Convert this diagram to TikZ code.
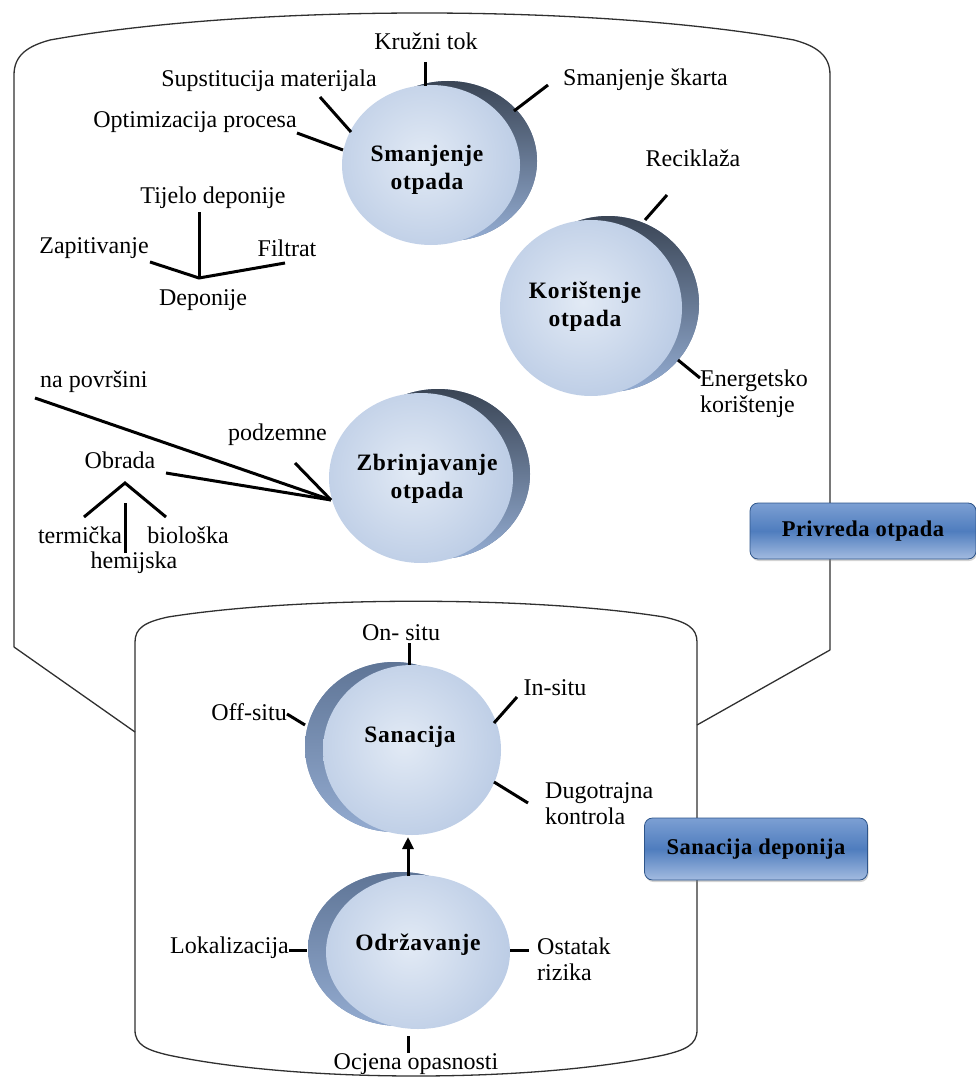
\documentclass[tikz,border=0pt]{standalone}
\usepackage{fontspec}
\setmainfont{Liberation Serif}
\usetikzlibrary{shapes.geometric,shadows,arrows.meta}
\definecolor{faceL}{HTML}{E2EAF5}
\definecolor{faceD}{HTML}{9AB2D7}
\definecolor{rimTop}{HTML}{3A4555}
\definecolor{rimBot}{HTML}{94ADD3}
\definecolor{rimMid}{HTML}{66799A}
\definecolor{rimL}{HTML}{5F7596}
\definecolor{rimLb}{HTML}{93ABD0}
\definecolor{rimLm}{HTML}{7890B5}
\definecolor{boxTop}{HTML}{7C9FD3}
\definecolor{boxMid}{HTML}{4F7DBE}
\definecolor{boxBot}{HTML}{A3BBE0}
\definecolor{boxEdge}{HTML}{2E558A}
\definecolor{outline}{HTML}{303030}
\begin{document}
\begin{tikzpicture}[x=1pt,y=-1pt,
  lbl/.style={font=\fontsize{24}{26}\selectfont, inner sep=0pt, text=black},
  blbl/.style={font=\fontsize{23.5}{28}\selectfont\bfseries\addfontfeatures{LetterSpace=3}, inner sep=0pt, align=center},
  conn/.style={line width=3pt, black},
  frame/.style={line width=1.3pt, outline},
  face/.style={ellipse, inner sep=0pt, path picture={\shade[inner color=faceL, outer color=faceD] (path picture bounding box.center) ++(-8,-6) circle[radius=190pt];}},
  rimR/.style={top color=rimTop, bottom color=rimBot},
  rimLft/.style={top color=rimL, bottom color=rimLb},
  tag/.style={rounded corners=8pt, draw=boxEdge, line width=0.8pt, top color=boxTop, bottom color=boxBot, middle color=boxMid, font=\fontsize{22.5}{26}\selectfont\bfseries\addfontfeatures{LetterSpace=2}, inner sep=0pt, drop shadow={shadow xshift=1pt, shadow yshift=-2pt, opacity=0.35}}
]
\useasboundingbox (0,0) rectangle (975,1078);

% ---------- outlines ----------
\draw[frame] (14,647) -- (14,75) .. controls (14,55) and (28,46) .. (50,40) .. controls (250,4) and (594,4) .. (794,40) .. controls (816,46) and (830,55) .. (830,75) -- (830,650);
\draw[frame] (14,647) -- (135,732);
\draw[frame] (830,650) -- (697,725);
\draw[frame] (135,1030) -- (135,642) .. controls (135,628) and (145,622) .. (168,617) .. controls (300,596) and (532,596) .. (664,617) .. controls (687,622) and (697,628) .. (697,642) -- (697,1030) .. controls (697,1045) and (685,1050) .. (664,1055) .. controls (532,1083) and (300,1083) .. (168,1055) .. controls (147,1050) and (135,1045) .. (135,1030) -- cycle;

% ---------- tags ----------
\node[tag, minimum width=226pt, minimum height=56pt] (privreda) at (863,531) {Privreda otpada};
\node[tag, minimum width=223pt, minimum height=62pt] (sanbox) at (756,849) {Sanacija deponija};

% ---------- discs ----------
\fill[rimMid] (448,161) ellipse [x radius=89pt, y radius=80pt];
\shade[rimR] (448,161) ellipse [x radius=89pt, y radius=80pt];
\node[face, minimum width=178pt, minimum height=160pt] (smanj) at (431,165) {};
\node[blbl] (smanjT) at (427,170) {Smanjenje\\otpada};

\fill[rimMid] (608,304) ellipse [x radius=91pt, y radius=88pt];
\shade[rimR] (608,304) ellipse [x radius=91pt, y radius=88pt];
\node[face, minimum width=182pt, minimum height=176pt] (kor) at (591,308) {};
\node[blbl] (korT) at (585,307) {Korištenje\\otpada};

\fill[rimMid] (438,474) ellipse [x radius=92pt, y radius=85pt];
\shade[rimR] (438,474) ellipse [x radius=92pt, y radius=85pt];
\node[face, minimum width=184pt, minimum height=170pt] (zbr) at (421,478) {};
\node[blbl] (zbrT) at (427,479) {Zbrinjavanje\\otpada};

\fill[rimLm] (394,747) ellipse [x radius=89pt, y radius=85pt];
\shade[rimLft] (394,747) ellipse [x radius=89pt, y radius=85pt];
\node[face, minimum width=178pt, minimum height=170pt] (san) at (412,750) {};
\node[blbl] (sanT) at (410,737) {Sanacija};

\fill[rimLm] (400,949) ellipse [x radius=92pt, y radius=77pt];
\shade[rimLft] (400,949) ellipse [x radius=92pt, y radius=77pt];
\node[face, minimum width=184pt, minimum height=154pt] (odr) at (418,952) {};
\node[blbl] (odrT) at (418,945) {Održavanje};

% ---------- labels ----------
\node[lbl] (kruzni) at (426,41) {Kružni tok};
\node[lbl] (supst) at (269,81) {Supstitucija materijala};
\node[lbl, anchor=west] (smsk) at (563,80) {Smanjenje škarta};
\node[lbl] (optim) at (195,122) {Optimizacija procesa};
\node[lbl] (recik) at (693,158) {Reciklaža};
\node[lbl] (tijelo) at (213,198) {Tijelo deponije};
\node[lbl] (zapit) at (94,248) {Zapitivanje};
\node[lbl] (filtr) at (287,248) {Filtrat};
\node[lbl] (depon) at (203,300) {Deponije};
\node[lbl, anchor=west] (napov) at (40,382) {na površini};
\node[lbl, anchor=west, align=left] (energ) at (700,394) {Energetsko\\korištenje};
\node[lbl, anchor=west] (podz) at (228,435) {podzemne};
\node[lbl] (obrada) at (120,460) {Obrada};
\node[lbl] (termi) at (80,535) {termička};
\node[lbl] (biolo) at (188,535) {biološka};
\node[lbl] (hemij) at (134,563) {hemijska};
\node[lbl] (onsitu) at (401,633) {On- situ};
\node[lbl] (insitu) at (555,688) {In-situ};
\node[lbl, anchor=east] (offsitu) at (287,712) {Off-situ};
\node[lbl, anchor=west, align=left] (dugo) at (545,804) {Dugotrajna\\kontrola};
\node[lbl, anchor=east] (lokal) at (289,948) {Lokalizacija};
\node[lbl, anchor=west, align=left] (ostatak) at (537,959) {Ostatak\\rizika};
\node[lbl] (ocjena) at (416,1064) {Ocjena opasnosti};

% ---------- connector end points ----------
\coordinate (k1) at (425,62);  \coordinate (k2) at (425,86);
\coordinate (s1) at (320,97);  \coordinate (s2) at (351,132);
\coordinate (o1) at (297,133); \coordinate (o2) at (343,150);
\coordinate (sk1) at (548,85); \coordinate (sk2) at (514,111);
\coordinate (d0) at (199,278); \coordinate (t1) at (199,212);
\coordinate (z1) at (150,262); \coordinate (f1) at (285,263);
\coordinate (r1) at (667,195); \coordinate (r2) at (645,220);
\coordinate (e1) at (678,360); \coordinate (e2) at (700,378);
\coordinate (zc) at (331,500);
\coordinate (n1) at (35,398);  \coordinate (p1) at (295,463); \coordinate (ob1) at (166,473);
\coordinate (va) at (125,483); \coordinate (vl) at (84,517); \coordinate (vr) at (166,517);
\coordinate (h1) at (125,503); \coordinate (h2) at (125,553);
\coordinate (on1) at (409,643); \coordinate (on2) at (409,665);
\coordinate (in1) at (517,697); \coordinate (in2) at (494,723);
\coordinate (of1) at (287,714); \coordinate (of2) at (305,725);
\coordinate (dk1) at (494,782); \coordinate (dk2) at (528,803);
\coordinate (lk1) at (289,950); \coordinate (lk2) at (307,950);
\coordinate (os1) at (510,950); \coordinate (os2) at (529,950);
\coordinate (oc1) at (408,1036); \coordinate (oc2) at (408,1053);
\coordinate (ar1) at (408,876); \coordinate (ar2) at (408,837);

% ---------- connectors ----------
\draw[conn] (k1) -- (k2);
\draw[conn] (s1) -- (s2);
\draw[conn] (o1) -- (o2);
\draw[conn] (sk1) -- (sk2);
\draw[conn] (t1) -- (d0);
\draw[conn] (z1) -- (d0) -- (f1);
\draw[conn] (r1) -- (r2);
\draw[conn] (e1) -- (e2);
\draw[conn] (n1) -- (zc);
\draw[conn] (p1) -- (zc);
\draw[conn] (ob1) -- (zc);
\draw[conn] (vl) -- (va) -- (vr);
\draw[conn] (h1) -- (h2);
\draw[conn] (on1) -- (on2);
\draw[conn] (in1) -- (in2);
\draw[conn] (of1) -- (of2);
\draw[conn] (dk1) -- (dk2);
\draw[conn] (lk1) -- (lk2);
\draw[conn] (os1) -- (os2);
\draw[conn] (oc1) -- (oc2);
\draw[conn, -{Triangle[length=12pt, width=11pt]}] (ar1) -- (ar2);
\end{tikzpicture}
\end{document}
